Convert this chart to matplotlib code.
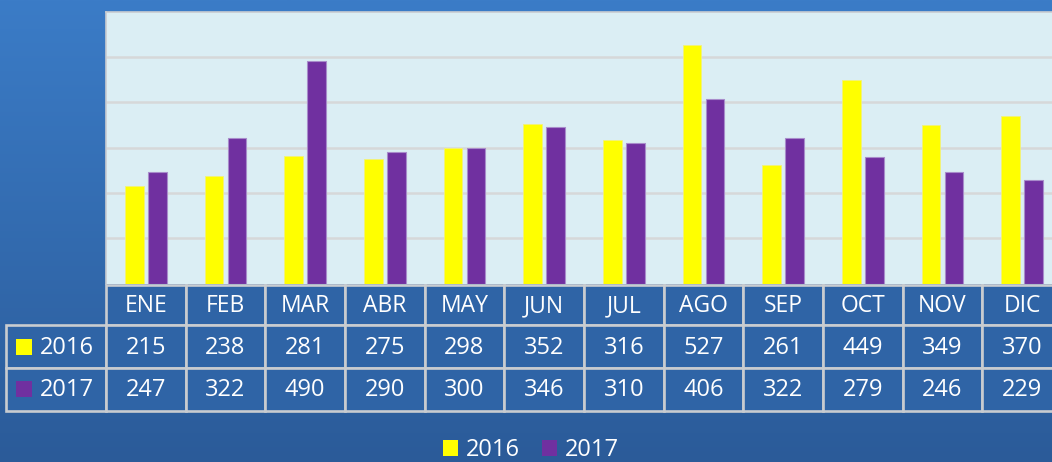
import numpy as np
import matplotlib
matplotlib.use("Agg")
from matplotlib import pyplot as plt
from matplotlib.patches import Rectangle, Patch

## datos ##
meses = ["ENE", "FEB", "MAR", "ABR", "MAY", "JUN", "JUL", "AGO", "SEP", "OCT", "NOV", "DIC"]
serie_2016 = [215, 238, 281, 275, 298, 352, 316, 527, 261, 449, 349, 370]
serie_2017 = [247, 322, 490, 290, 300, 346, 310, 406, 322, 279, 246, 229]
nombres = ["2016", "2017"]

amarillo = "#FFFF00"
morado = "#7030A0"
borde = "#C9CCD0"
celda = "#2F64A6"
W, H = 1052, 462

plt.rcParams["font.family"] = ["Open Sans", "DejaVu Sans"]

fig = plt.figure(figsize=(W / 100, H / 100), dpi=100)

# fondo degradado
bg = fig.add_axes([0, 0, 1, 1], zorder=-10)
grad = np.linspace(0, 1, 256)[:, None]
c_top = np.array([59, 124, 199]) / 255
c_bot = np.array([43, 91, 153]) / 255
img = c_top[None, None, :] * (1 - grad[:, :, None]) + c_bot[None, None, :] * grad[:, :, None]
bg.imshow(img, aspect="auto", extent=[0, 1, 0, 1])
bg.set_axis_off()

# ejes del grafico (pixeles -> fraccion)
x0, x1 = 106, 1062
y_top, y_base = 11.5, 283.5
ax = fig.add_axes([x0 / W, (H - y_base) / H, (x1 - x0) / W, (y_base - y_top) / H])
ax.set_facecolor("#DBEEF4")

x = np.arange(len(meses))
ancho = 0.235
ax.bar(x - 0.145, serie_2016, ancho, color=amarillo, edgecolor="#F2F27A", linewidth=0.6, zorder=3)
ax.bar(x + 0.145, serie_2017, ancho, color=morado, edgecolor="#A88CCB", linewidth=0.8, zorder=3)

ax.set_xlim(-0.5, len(meses) - 0.5)
ax.set_ylim(0, 600)
ax.set_yticks(np.arange(100, 600, 100))
ax.yaxis.grid(True, color="#D6D8D9", linewidth=1.8, zorder=1)
ax.tick_params(left=False, bottom=False, labelleft=False, labelbottom=False)
for lado in ["top", "left", "right"]:
    ax.spines[lado].set_color(borde)
    ax.spines[lado].set_linewidth(1.2)
ax.spines["bottom"].set_visible(False)

# tabla de datos
px_unidad = (x1 - x0) / len(meses)
lab_izq = 6
tx = fig.add_axes([0, 0, 1, 1], zorder=5)
tx.set_xlim(-0.5 - x0 / px_unidad, -0.5 + (W - x0) / px_unidad)
tx.set_ylim(H, 0)
tx.set_axis_off()

filas_y = [(285, 325), (325, 368), (368, 410.5)]
lw = 1.9

def celda_rect(xa, xb, ya, yb):
    tx.add_patch(Rectangle((xa, ya), xb - xa, yb - ya, facecolor=celda,
                           edgecolor=borde, linewidth=lw, zorder=2))

# encabezado
for i, m in enumerate(meses):
    ya, yb = filas_y[0]
    celda_rect(i - 0.5, i + 0.5, ya, yb)
    tx.text(i, (ya + yb) / 2 + 1, m, color="white", fontsize=16.5,
            ha="center", va="center", zorder=4)

xl = -0.5 - (x0 - lab_izq) / px_unidad
for r, (nombre, vals, col) in enumerate(zip(nombres, [serie_2016, serie_2017], [amarillo, morado])):
    ya, yb = filas_y[r + 1]
    celda_rect(xl, -0.5, ya, yb)
    yc = (ya + yb) / 2
    tx.add_patch(Rectangle((xl + 10 / px_unidad, yc - 8), 16 / px_unidad, 16,
                           facecolor=col, edgecolor="none", zorder=4))
    tx.text(xl + 34 / px_unidad, yc + 1, nombre, color="white", fontsize=17,
            ha="left", va="center", zorder=4)
    for i, v in enumerate(vals):
        celda_rect(i - 0.5, i + 0.5, ya, yb)
        tx.text(i, yc + 1, str(v), color="white", fontsize=17,
                ha="center", va="center", zorder=4)

# leyenda
manejadores = [Patch(facecolor=amarillo, edgecolor="none"), Patch(facecolor=morado, edgecolor="none")]
fig.legend(manejadores, nombres, loc="center", bbox_to_anchor=(531 / W, 1 - 450 / H),
           ncol=2, frameon=False, fontsize=17, labelcolor="white",
           handlelength=0.65, handleheight=0.65, handletextpad=0.35, columnspacing=0.9,
           borderpad=0)

fig.savefig("out.png", dpi=100)
